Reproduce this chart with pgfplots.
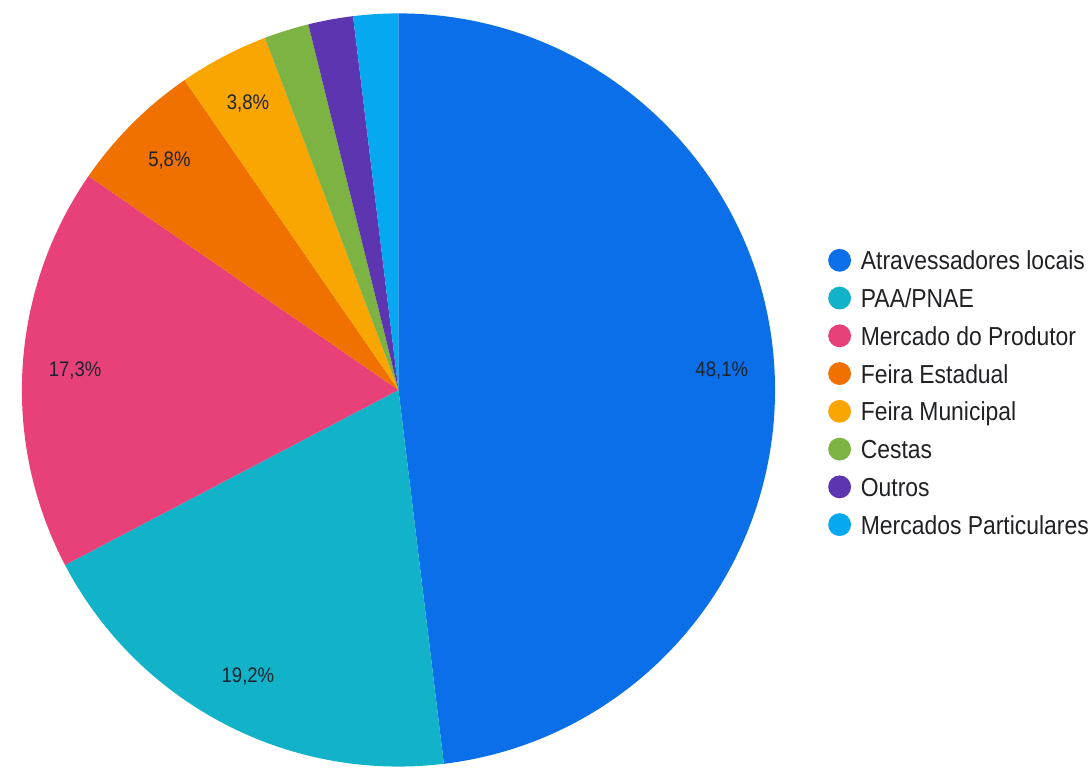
\documentclass[border=0pt]{standalone}
\usepackage{fontspec}
\setmainfont[FakeStretch=0.88]{Liberation Sans}
\usepackage{pgfplots}
\usepackage{pgfplotstable}
\pgfplotsset{compat=1.18}

\definecolor{c0}{HTML}{0A6FE8}
\definecolor{c1}{HTML}{12B3C9}
\definecolor{c2}{HTML}{E8417A}
\definecolor{c3}{HTML}{F07000}
\definecolor{c4}{HTML}{F9A602}
\definecolor{c5}{HTML}{7CB342}
\definecolor{c6}{HTML}{5E35B1}
\definecolor{c7}{HTML}{06A8F0}
\definecolor{lbl}{HTML}{1C2430}
\definecolor{legtext}{HTML}{202124}

% respondents per sales channel
\pgfplotstableread[col sep=semicolon]{
name;count
Atravessadores locais;25
PAA/PNAE;10
Mercado do Produtor;9
Feira Estadual;3
Feira Municipal;2
Cestas;1
Outros;1
Mercados Particulares;1
}\piedata

\begin{document}
\begin{tikzpicture}
\def\total{0}
\pgfplotsforeachungrouped \i in {0,...,7}{%
  \pgfplotstablegetelem{\i}{count}\of\piedata
  \pgfmathsetmacro\total{\total+\pgfplotsretval}%
}
\def\cum{0}
\pgfplotsforeachungrouped \i in {0,...,7}{%
  \pgfplotstablegetelem{\i}{count}\of\piedata
  \let\cnt=\pgfplotsretval
  \pgfmathsetmacro\sa{90-(\cum/\total)*360}%
  \pgfmathsetmacro\cum{\cum+\cnt}%
  \pgfmathsetmacro\ea{90-(\cum/\total)*360}%
  \pgfmathsetmacro\ma{(\sa+\ea)/2}%
  \pgfmathsetmacro\pct{(\cnt/\total)*100}%
  \pgfmathprintnumberto[fixed,fixed zerofill,precision=1,use comma,assume math mode=true]{\pct}\pcttxt
  \expandafter\xdef\csname sa\i\endcsname{\sa}%
  \expandafter\xdef\csname ea\i\endcsname{\ea}%
  \expandafter\xdef\csname ma\i\endcsname{\ma}%
  \expandafter\xdef\csname pct\i\endcsname{\pct}%
  \expandafter\xdef\csname lb\i\endcsname{\pcttxt\noexpand\%}%
  \pgfplotstablegetelem{\i}{name}\of\piedata
  \expandafter\xdef\csname nm\i\endcsname{\pgfplotsretval}%
}
\begin{axis}[
    width=546pt, height=386pt,
    scale only axis,
    xmin=0, xmax=1092,
    ymin=0, ymax=772,
    hide axis,
    clip=false,
]
\path (axis cs:0,0) rectangle (axis cs:1092,772);
% wedges, clockwise from 12 o'clock
\pgfplotsinvokeforeach{0,...,7}{
  \fill[c#1] (axis cs:394,379.5) -- ++(\csname sa#1\endcsname:189.5pt)
    arc[start angle=\csname sa#1\endcsname, end angle=\csname ea#1\endcsname, radius=189.5pt] -- cycle;
}
% percentage labels (only the larger slices)
\pgfplotsinvokeforeach{0,...,7}{
  \ifdim\csname pct#1\endcsname pt>3pt
    \path (axis cs:394,379.5) ++(\csname ma#1\endcsname:163pt)
      node[font=\fontsize{10.6}{12}\selectfont, text=lbl, inner sep=0pt] {\csname lb#1\endcsname};
  \fi
}
% legend
\pgfplotsinvokeforeach{0,...,7}{
  \fill[c#1] (axis cs:838,{510-38*#1}) circle (5.75pt);
  \node[anchor=west, inner sep=0pt, text height=9.5pt, text depth=0pt,
        font=\fontsize{13.1}{15}\selectfont, text=legtext]
    at (axis cs:859,{510-38*#1}) {\csname nm#1\endcsname};
}
\end{axis}
\end{tikzpicture}
\end{document}
